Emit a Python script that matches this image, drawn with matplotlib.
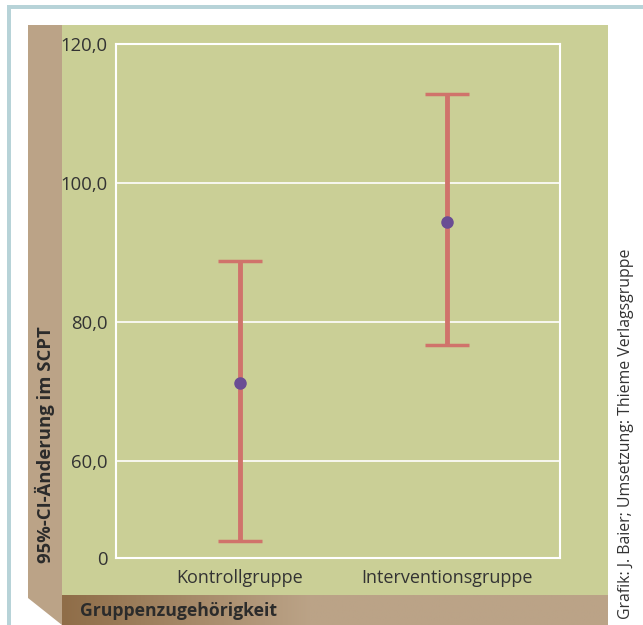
import numpy as np
import matplotlib.pyplot as plt
from matplotlib.patches import Rectangle, Polygon

# 95%-CI of the SCPT change per group
groups = ['Kontrollgruppe', 'Interventionsgruppe']
means = [71.2, 94.4]
ci_low = [48.5, 76.7]
ci_high = [88.8, 112.8]

# y axis is broken: the lowest tick stands for 0
y_ticks = [46.0, 60.0, 80.0, 100.0, 120.0]
y_ticklabels = ['0', '60,0', '80,0', '100,0', '120,0']

plt.rcParams['font.family'] = ['Open Sans', 'DejaVu Sans']

W, H = 643, 625
fig = plt.figure(figsize=(W / 100, H / 100), dpi=100)
fig.patch.set_facecolor('white')

# frame, panel and the brown "3D" axis bars, drawn in pixel space
bg = fig.add_axes([0, 0, 1, 1])
bg.set_xlim(0, W)
bg.set_ylim(H, 0)
bg.axis('off')

frame_col = '#b7d3d8'
tan = '#bba387'
green = '#cacf96'
bg.add_patch(Rectangle((7, 5), W - 7, 4, color=frame_col, lw=0))
bg.add_patch(Rectangle((7, 5), 4, H - 5, color=frame_col, lw=0))
bg.add_patch(Polygon([(28, 25), (62, 25), (62, H), (28, 598)], closed=True, color=tan, lw=0))
bg.add_patch(Rectangle((62, 25), 546, 570, color=green, lw=0))

grad = np.linspace(0, 1, 256)[None, :]
grad = np.clip(grad * 2.2, 0, 1)
c0 = np.array([0x8f, 0x6d, 0x48]) / 255
c1 = np.array([0xbb, 0xa3, 0x87]) / 255
img = c0[None, None, :] * (1 - grad[..., None]) + c1[None, None, :] * grad[..., None]
bg.imshow(img, extent=(62, 608, H, 595), aspect='auto', zorder=2)
bg.set_xlim(0, W)
bg.set_ylim(H, 0)

bg.text(45, 563, '95%-CI-Änderung im SCPT', rotation=90, ha='center', va='bottom',
        fontsize=13.3, fontweight='bold', color='#2b2b2b')
bg.text(80, 611, 'Gruppenzugehörigkeit', ha='left', va='center',
        fontsize=12.7, fontweight='bold', color='#2b2b2b', zorder=3)
bg.text(626, 619, 'Grafik: J. Baier; Umsetzung: Thieme Verlagsgruppe', rotation=90,
        ha='center', va='bottom', fontsize=11.4, color='#333333')

# main plot area
ax = fig.add_axes([116 / W, (H - 558) / H, 444 / W, (558 - 44) / H])
ax.set_facecolor('none')
x = np.arange(len(groups))
means_a = np.array(means)
yerr = [means_a - np.array(ci_low), np.array(ci_high) - means_a]
ax.errorbar(x, means, yerr=yerr, fmt='o', color='#6a4d94', ms=8,
            ecolor='#d0736b', elinewidth=3.5, capsize=16, capthick=2.5, zorder=3)
ax.set_xlim(-0.6, 1.547)
ax.set_ylim(46, 120)
ax.set_yticks(y_ticks)
ax.set_yticklabels(y_ticklabels)
ax.set_xticks(x)
ax.set_xticklabels(groups)
ax.tick_params(length=0, labelsize=13, colors='#333333', pad=6)
ax.tick_params(axis='x', pad=8)
for t in ax.get_yticklabels():
    t.set_fontsize(13.3)
ax.grid(axis='y', color='white', lw=1.2, zorder=1)
for s in ax.spines.values():
    s.set_color('white')
    s.set_linewidth(1.5)

fig.savefig('out.png', dpi=100)
